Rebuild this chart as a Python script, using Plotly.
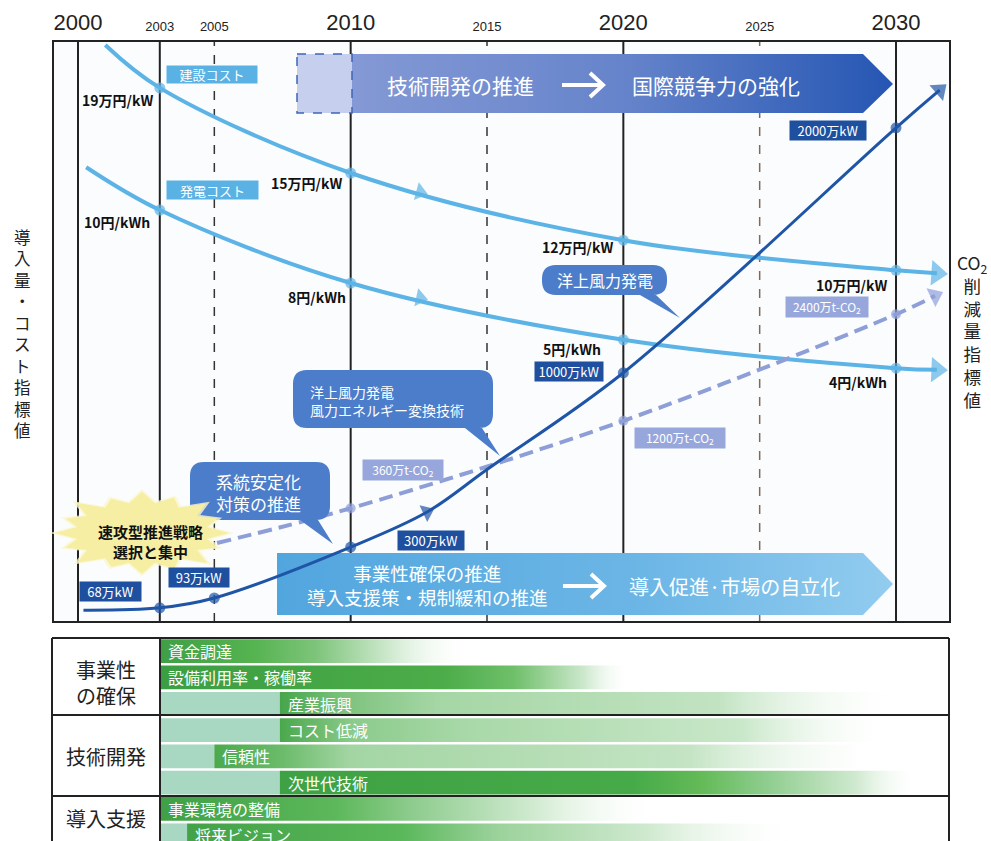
import math
import plotly.graph_objects as go

W, H = 991, 841
JP = "Noto Sans CJK JP"

# ---------------- data (index levels: 0 = panel bottom, 100 = panel top) ----------------
major_years = [2000, 2010, 2020, 2030]
minor_years = [2003, 2005, 2015, 2025]
solid_years = [2000, 2003, 2010, 2020, 2030]
dashed_years = [2005, 2015, 2025]

# 建設コスト (construction cost)
cons_x = [2001.0, 2003, 2010, 2020, 2030, 2031.5]
cons_y = [99.3, 91.9, 77.2, 65.6, 60.4, 59.9]
cons_key = [1, 2, 3, 4]
cons_labels = ["19万円/kW", "15万円/kW", "12万円/kW", "10万円/kW"]
cons_mid = (2012.55, 73.9)

# 発電コスト (generation cost)
gen_x = [2000.3, 2003, 2010, 2020, 2030, 2031.5]
gen_y = [78.2, 70.8, 58.2, 48.4, 43.5, 43.2]
gen_key = [1, 2, 3, 4]
gen_labels = ["10円/kWh", "8円/kWh", "5円/kWh", "4円/kWh"]
gen_mid = (2012.55, 55.6)

# 導入量 (installed capacity)
cap_x = [2000.2, 2003, 2005, 2010, 2012.8, 2015, 2020, 2030, 2031.6]
cap_y = [1.7, 2.1, 3.8, 12.6, 18.65, 26.0, 42.7, 85.0, 91.5]
cap_key = [1, 2, 3, 6, 7]
cap_labels = ["68万kW", "93万kW", "300万kW", "1000万kW", "2000万kW"]
cap_mid = (2012.8, 18.65)

# CO2 削減量
co2_x = [2005.1, 2010, 2020, 2030, 2031.43]
co2_y = [13.3, 19.3, 34.4, 52.8, 56.0]
co2_key = [1, 2, 3]
co2_labels = ["360万t-CO<sub>2</sub>", "1200万t-CO<sub>2</sub>", "2400万t-CO<sub>2</sub>"]

# axis titles
left_title = ["導", "入", "量", "・", "コ", "ス", "ト", "指", "標", "値"]
right_title = ["CO<sub>2</sub>", "削", "減", "量", "指", "標", "値"]

# bottom table
group_labels = ["事業性<br>の確保", "技術開発", "導入支援"]
row_labels = ["資金調達", "設備利用率・稼働率", "産業振興", "コスト低減", "信頼性",
              "次世代技術", "事業環境の整備", "将来ビジョン"]
row_start = [2003.0, 2003.0, 2007.4, 2007.4, 2005.0, 2007.4, 2003.0, 2004.0]
row_end = [2014.4, 2020.3, 2030.4, 2030.0, 2029.9, 2030.9, 2021.4, 2026.5]
table_from = 2003.0

# ---------------- helpers (layout only) ----------------
PXY = 27.267          # px per year
PXL = 5.79            # px per index unit
X0PX = 78             # px of year 2000
def yr(px):
    return 2000 + (px - X0PX) / PXY
def lv(py):
    return (620 - py) / PXL

def pp(x, y):
    return f"{x / W:.5f},{1 - y / H:.5f}"

def svg(cmds, close=True):
    out = []
    for c in cmds:
        out.append(c[0] + " " + " ".join(pp(*p) for p in c[1:]))
    return " ".join(out) + (" Z" if close else "")

def bubble(x0, y0, x1, y1, r, t0, t1, tx, ty):
    return svg([
        ("M", (x0 + r, y0)), ("L", (x1 - r, y0)), ("Q", (x1, y0), (x1, y0 + r)),
        ("L", (x1, y1 - r)), ("Q", (x1, y1), (x1 - r, y1)),
        ("L", (t1, y1)), ("L", (tx, ty)), ("L", (t0, y1)),
        ("L", (x0 + r, y1)), ("Q", (x0, y1), (x0, y1 - r)),
        ("L", (x0, y0 + r)), ("Q", (x0, y0), (x0 + r, y0)),
    ])

def heading(a, b):
    dx = (b[0] - a[0]) * PXY
    dy = (b[1] - a[1]) * PXL
    return math.degrees(math.atan2(dx, dy))

fig = go.Figure()
shapes = []
ann = []

# ---------------- top panel background & grid lines ----------------
shapes.append(dict(type="rect", xref="x domain", yref="y domain", x0=0, x1=1, y0=0, y1=1,
                   fillcolor="#fbfcfe", line=dict(width=0), layer="below"))
for yv in solid_years:
    shapes.append(dict(type="line", xref="x", yref="y domain", x0=yv, x1=yv, y0=0, y1=1,
                       line=dict(color="#222", width=2), layer="below"))
for yv in dashed_years:
    col = "#7d6a5c" if yv == 2025 else "#333"
    shapes.append(dict(type="line", xref="x", yref="y domain", x0=yv, x1=yv, y0=0, y1=1,
                       line=dict(color=col, width=1.5, dash="dash"), layer="below"))
shapes.append(dict(type="rect", xref="x domain", yref="y domain", x0=0, x1=1, y0=0, y1=1,
                   line=dict(color="#222", width=2), layer="above"))

# ---------------- banners (gradient fills) ----------------
tb = [(352, 54), (863, 54), (893, 84), (863, 113), (352, 113), (352, 54)]
fig.add_trace(go.Scatter(x=[yr(p[0]) for p in tb], y=[lv(p[1]) for p in tb], mode="lines",
                         fill="toself", line=dict(width=0), hoverinfo="skip", showlegend=False,
                         fillgradient=dict(type="horizontal",
                                           colorscale=[[0, "#8499d5"], [0.5, "#6684cb"], [1, "#2556b3"]])))
db = [(297, 54), (352, 54), (352, 113), (297, 113), (297, 54)]
fig.add_trace(go.Scatter(x=[yr(p[0]) for p in db], y=[lv(p[1]) for p in db], mode="lines",
                         fill="toself", fillcolor="#c7cfee",
                         line=dict(width=1.5, color="#3d66b9", dash="dash"),
                         hoverinfo="skip", showlegend=False))
bb = [(277, 553), (863, 553), (893, 584), (863, 615), (277, 615), (277, 553)]
fig.add_trace(go.Scatter(x=[yr(p[0]) for p in bb], y=[lv(p[1]) for p in bb], mode="lines",
                         fill="toself", line=dict(width=0), hoverinfo="skip", showlegend=False,
                         fillgradient=dict(type="horizontal",
                                           colorscale=[[0, "#52a6de"], [0.6, "#6cb6e6"], [1, "#92ccef"]])))

# dummy trace so the minor (top) axis is drawn
fig.add_trace(go.Scatter(x=[minor_years[0]], y=[0], xaxis="x3", yaxis="y", mode="markers",
                         marker=dict(opacity=0), hoverinfo="skip", showlegend=False))

# ---------------- curves ----------------
LB = "#5cb3e6"
DB = "#1f55a6"
LV = "#8e9fd8"

def series(xs, ys, color, width, dash, mid, msize, endsize, key_idx):
    fig.add_trace(go.Scatter(x=xs, y=ys, mode="lines", line=dict(color=color, width=width,
                             shape="spline", smoothing=1.0, dash=dash),
                             hoverinfo="skip", showlegend=False))
    px_, py_, sym, sz, ang = [], [], [], [], []
    for i in key_idx:
        px_.append(xs[i]); py_.append(ys[i]); sym.append("circle"); sz.append(msize); ang.append(0)
    if mid is not None:
        prev = max((k for k in key_idx if xs[k] < mid[0]), key=lambda k: xs[k])
        px_.append(mid[0]); py_.append(mid[1]); sym.append("triangle-up"); sz.append(16)
        ang.append(heading((xs[prev], ys[prev]), mid))
    px_.append(xs[-1]); py_.append(ys[-1]); sym.append("triangle-up"); sz.append(endsize)
    ang.append(heading((xs[-2], ys[-2]), (xs[-1], ys[-1])))
    fig.add_trace(go.Scatter(x=px_, y=py_, mode="markers",
                             marker=dict(color=color, size=sz, symbol=sym, angle=ang,
                                         line=dict(width=0)),
                             hoverinfo="skip", showlegend=False))

series(cons_x, cons_y, LB, 4, "solid", cons_mid, 11, 22, cons_key)
series(gen_x, gen_y, LB, 4, "solid", gen_mid, 11, 22, gen_key)
series(co2_x, co2_y, LV, 4, "14px,7px", None, 10, 18, co2_key)
series(cap_x, cap_y, DB, 3, "solid", cap_mid, 11, 18, cap_key)

# ---------------- value labels ----------------
def plain(x, y, text, xs, ys):
    ann.append(dict(x=x, y=y, xref="x", yref="y", text=text, showarrow=False, xanchor="right",
                    xshift=xs, yshift=ys, font=dict(family=JP, size=14, color="#111", weight="bold")))

for k, (xs, ys) in zip(range(4), [(-5, -12), (-7, -10), (-8, -7), (-7, -15)]):
    i = cons_key[k]
    plain(cons_x[i], cons_y[i], cons_labels[k], xs, ys)
for k, (xs, ys) in zip(range(4), [(-8, -12), (-3, -14), (-20, -9), (-7, -14)]):
    i = gen_key[k]
    plain(gen_x[i], gen_y[i], gen_labels[k], xs, ys)

def box(x, y, text, xs, ys, w, h, bg, size=13):
    ann.append(dict(x=x, y=y, xref="x", yref="y", text=text, showarrow=False, xanchor="center",
                    yanchor="middle", xshift=xs, yshift=ys, width=w, height=h, bgcolor=bg,
                    borderpad=1, font=dict(family=JP, size=size, color="white")))

cap_off = [(-49, 16, 59), (-15, 21, 58), (80, 7, 64), (-54, 1.5, 66), (-68, -3, 74)]
for k, (xs, ys, w) in enumerate(cap_off):
    i = cap_key[k]
    box(cap_x[i], cap_y[i], cap_labels[k], xs, ys, w, 17, "#1f4f9f")
co2_off = [(52, 38, 78), (57, -17, 88), (-69, 7, 80)]
for k, (xs, ys, w) in enumerate(co2_off):
    i = co2_key[k]
    box(co2_x[i], co2_y[i], co2_labels[k], xs, ys, w, 18, "#97a7dc", size=12)

def ptext(x, y, text, size, color="#222", xanchor="center", weight="normal", family=JP, **kw):
    d = dict(x=x / W, y=1 - y / H, xref="paper", yref="paper", text=text, showarrow=False,
             xanchor=xanchor, yanchor="middle",
             font=dict(family=family, size=size, color=color, weight=weight))
    d.update(kw)
    ann.append(d)

# light-blue series tags
ptext(212, 74.5, "建設コスト", 13, "white", width=88, height=15, bgcolor="#5ab2e4")
ptext(212.5, 190, "発電コスト", 13, "white", width=89, height=16, bgcolor="#5ab2e4")

# ---------------- speech bubbles ----------------
BC = "#4c7dca"
shapes.append(dict(type="path", xref="paper", yref="paper", layer="above",
                   path=bubble(542, 265, 667, 295, 14, 640, 656, 680, 318),
                   fillcolor=BC, line=dict(width=0)))
shapes.append(dict(type="path", xref="paper", yref="paper", layer="above",
                   path=bubble(293, 370, 493, 428, 14, 465, 482, 500, 456),
                   fillcolor=BC, line=dict(width=0)))
shapes.append(dict(type="path", xref="paper", yref="paper", layer="above",
                   path=bubble(190, 462, 330, 520, 14, 300, 318, 333, 544),
                   fillcolor=BC, line=dict(width=0)))
ptext(605, 280, "洋上風力発電", 16, "white")
ptext(308, 401, "洋上風力発電<br>風力エネルギー変換技術", 14, "white", xanchor="left", align="left")
ptext(258, 493, "系統安定化<br>対策の推進", 17, "white")

# ---------------- starburst ----------------
cx, cy, rx, ry = 142, 533, 87, 40
mult = [1.0, 0.94, 1.06, 0.97, 1.02, 0.92, 1.05, 0.96, 1.0, 0.95, 1.07, 0.93, 1.03, 0.96, 1.04, 0.94]
n = len(mult)
def star(scale):
    cmds = []
    for k in range(2 * n):
        a = math.pi * k / n
        r = (mult[k // 2] if k % 2 == 0 else 0.76) * scale
        p = (cx + rx * r * math.cos(a), cy + ry * r * math.sin(a))
        cmds.append(("M" if k == 0 else "L", p))
    return svg(cmds)
shapes.append(dict(type="path", xref="paper", yref="paper", layer="above", path=star(1.06),
                   fillcolor="rgba(250,246,205,0.8)", line=dict(width=0)))
shapes.append(dict(type="path", xref="paper", yref="paper", layer="above", path=star(1.0),
                   fillcolor="#f6eea2", line=dict(width=0)))
ptext(150, 541, "速攻型推進戦略<br>選択と集中", 15, "#111", weight="bold")

# ---------------- banner texts & arrows ----------------
ptext(460, 85, "技術開発の推進", 21, "white")
ptext(716, 85, "国際競争力の強化", 21, "white")
ptext(427, 585, "事業性確保の推進<br>導入支援策・規制緩和の推進", 18.5, "white")
ptext(734, 586, "導入促進·市場の自立化", 20, "white")
for (ax0, ay) in [(562, 85), (563, 586)]:
    shapes.append(dict(type="path", xref="paper", yref="paper", layer="above",
                       path=svg([("M", (ax0, ay)), ("L", (ax0 + 40, ay))], close=False),
                       line=dict(color="white", width=4)))
    shapes.append(dict(type="path", xref="paper", yref="paper", layer="above",
                       path=svg([("M", (ax0 + 28, ay - 12)), ("L", (ax0 + 41, ay)),
                                 ("L", (ax0 + 28, ay + 12))], close=False),
                       line=dict(color="white", width=4)))

# ---------------- axis titles ----------------
ptext(22, 333, "<br>".join(left_title), 16.5, "#222")
ptext(972, 331, "<br>".join(right_title), 17.5, "#222")

# ---------------- bottom table ----------------
PALE = "#a9d8c2"
scales = [
    [[0, "#3f9f45"], [0.3, "#55b350"], [0.5, "#7dc47a"], [0.75, "#d2ebd2"], [1, "rgba(255,255,255,0)"]],
    [[0, "#3c9e42"], [0.6, "#4cac48"], [0.75, "#6fbf6a"], [0.9, "#cde8cd"], [1, "rgba(255,255,255,0)"]],
    [[0, "#46a54a"], [0.1, "#7cc27c"], [0.25, "#a5d6a5"], [0.7, "#c2e3c2"], [1, "rgba(255,255,255,0)"]],
    [[0, "#4aa84c"], [0.12, "#8ccb8c"], [0.3, "#a8d8a8"], [0.75, "#c9e7c9"], [1, "rgba(255,255,255,0)"]],
    [[0, "#4ba94d"], [0.1, "#6bbb6b"], [0.2, "#a3d5a3"], [0.7, "#c4e4c4"], [1, "rgba(255,255,255,0)"]],
    [[0, "#3ea244"], [0.55, "#46aa48"], [0.66, "#64bb58"], [0.76, "#8fcd8f"], [0.9, "#d0e9d0"], [1, "rgba(255,255,255,0)"]],
    [[0, "#3fa045"], [0.35, "#5cb85a"], [0.5, "#8dcb8d"], [0.75, "#d2ebd2"], [1, "rgba(255,255,255,0)"]],
    [[0, "#43a247"], [0.35, "#5ab85a"], [0.5, "#9ad19a"], [0.75, "#cfe9cf"], [1, "rgba(255,255,255,0)"]],
]
hh = 0.45
for i in range(len(row_labels)):
    if row_start[i] > table_from:
        fig.add_trace(go.Scatter(x=[table_from, row_start[i], row_start[i], table_from, table_from],
                                 y=[i - hh, i - hh, i + hh, i + hh, i - hh], mode="lines",
                                 fill="toself", fillcolor=PALE, line=dict(width=0),
                                 xaxis="x2", yaxis="y2", hoverinfo="skip", showlegend=False))
    fig.add_trace(go.Scatter(x=[row_start[i], row_end[i], row_end[i], row_start[i], row_start[i]],
                             y=[i - hh, i - hh, i + hh, i + hh, i - hh], mode="lines",
                             fill="toself", line=dict(width=0),
                             fillgradient=dict(type="horizontal", colorscale=scales[i]),
                             xaxis="x2", yaxis="y2", hoverinfo="skip", showlegend=False))
    ann.append(dict(x=row_start[i], y=i, xref="x2", yref="y2", text=row_labels[i], showarrow=False,
                    xanchor="left", yanchor="middle", xshift=6,
                    font=dict(family=JP, size=16, color="white")))

# table frame
def hline(y, x0=52, x1=949, w=2):
    shapes.append(dict(type="line", xref="paper", yref="paper", x0=x0 / W, x1=x1 / W,
                       y0=1 - y / H, y1=1 - y / H, line=dict(color="#222", width=w), layer="above"))
def vline(x, y0=638, y1=850, w=2):
    shapes.append(dict(type="line", xref="paper", yref="paper", x0=x / W, x1=x / W,
                       y0=1 - y0 / H, y1=1 - y1 / H, line=dict(color="#222", width=w), layer="above"))
hline(638)
hline(715)
hline(796)
vline(52)
vline(949)
vline(160)

ptext(106, 682, group_labels[0], 20, "#222")
ptext(106, 756, group_labels[1], 20, "#222")
ptext(106, 818, group_labels[2], 20, "#222")

# ---------------- layout ----------------
xr = [yr(53), yr(950)]
xdom = [53 / W, 950 / W]
fig.update_layout(
    width=W, height=H, margin=dict(l=0, r=0, t=0, b=0),
    paper_bgcolor="white", plot_bgcolor="white",
    xaxis=dict(domain=xdom, range=xr, side="top", anchor="y", tickvals=major_years,
               ticktext=[str(v) for v in major_years], ticks="", showgrid=False, zeroline=False,
               showline=False, tickfont=dict(family="Liberation Sans", size=22, color="#222"),
               ticklabelstandoff=6),
    xaxis3=dict(overlaying="x", matches="x", range=xr, side="top", anchor="y", tickvals=minor_years,
                ticktext=[str(v) for v in minor_years], ticks="", showgrid=False, zeroline=False,
                showline=False, tickfont=dict(family="Liberation Sans", size=13, color="#222"),
                ticklabelstandoff=6),
    yaxis=dict(domain=[1 - 622 / H, 1 - 41 / H], range=[lv(622), 100], visible=False),
    xaxis2=dict(domain=xdom, range=xr, anchor="y2", visible=False),
    yaxis2=dict(domain=[0, 1 - 638 / H], range=[-0.5 + 203 / 26.3, -0.5], visible=False),
    shapes=shapes, annotations=ann,
)
fig.write_html("out.html")
